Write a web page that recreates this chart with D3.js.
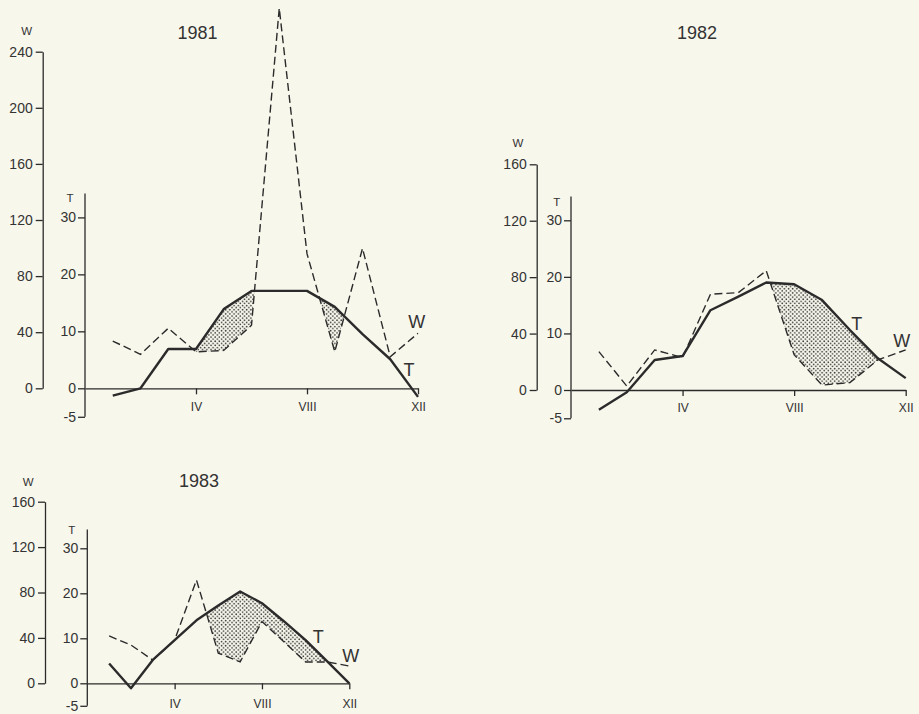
<!DOCTYPE html>
<html>
<head>
<meta charset="utf-8">
<script src="https://cdn.jsdelivr.net/npm/d3@7"></script>
<style>
  html, body { margin: 0; padding: 0; background: #f8f7ec; }
  svg { display: block; }
  text { font-family: "Liberation Sans", Arial, sans-serif; fill: #333; }
</style>
</head>
<body>
<svg id="chart" width="919" height="714"></svg>
<script>
// Monthly mean temperature (T, °C) and precipitation (W, mm), Walter–Lieth style
const monthTicks = [4, 8, 12];
const monthTickLabels = ["IV", "VIII", "XII"];
const tempTicks = [-5, 0, 10, 20, 30];
const rainTicks1981 = [0, 40, 80, 120, 160, 200, 240];
const rainTicks = [0, 40, 80, 120, 160];

const temp1981 = [-1.3, 0, 6.9, 6.9, 13.9, 17.1, 17.1, 17.1, 14.3, 9.5, 5.1, -1.5];
const rain1981 = [33.7, 24.2, 42.8, 26, 27, 45, 271, 96, 26, 99.8, 22.5, 39.2];

const temp1982 = [-3.5, -0.4, 5.3, 6.0, 14.1, 16.5, 19.0, 18.7, 15.9, 10.6, 5.6, 2.1];
const rain1982 = [27.2, 2.8, 28.4, 23, 67.9, 69, 84.6, 25, 3.5, 5.2, 21.3, 28.4];

const temp1983 = [4.4, -1.1, 5.2, 9.6, 14, 17.3, 20.4, 17.8, 13.8, 9.6, 4.8, 0];
const rain1983 = [41.7, 33.7, 20.5, 38, 91, 26.6, 18.8, 54.4, 36.7, 18.8, 18.8, 15.2];

const panels = [
  { year: "1981", temp: temp1981, rain: rain1981, rainTicks: rainTicks1981,
    tx: 85, wx: 42.7, xii: 418, base: 388.3, t30: 217.4, wTopPx: 51.7,
    title: [197.5, 38.5], tLab: [409, 376], wLab: [416.7, 328.3],
    numY: 411, axW: [26.7, 35], axT: [70, 202] },
  { year: "1982", temp: temp1982, rain: rain1982, rainTicks: rainTicks,
    tx: 571, wx: 536.7, xii: 905.7, base: 390, t30: 220.3, wTopPx: 164.3,
    title: [697, 38.5], tLab: [856.7, 330], wLab: [901.7, 346.7],
    numY: 411.5, axW: [518, 147], axT: [556.7, 205.5] },
  { year: "1983", temp: temp1983, rain: rain1983, rainTicks: rainTicks,
    tx: 87.3, wx: 45, xii: 349.3, base: 683.3, t30: 548.3, wTopPx: 501.7,
    title: [199, 486.5], tLab: [318.3, 643.3], wLab: [350.8, 661.7],
    numY: 708, axW: [28.3, 486], axT: [71.7, 534] }
];

const ink = "#2b2b2b";
const svg = d3.select("#chart");

// stipple used for dry periods (W below T)
const defs = svg.append("defs");
const pat = defs.append("pattern")
  .attr("id", "stipple")
  .attr("patternUnits", "userSpaceOnUse")
  .attr("width", 4.2).attr("height", 4.2);
pat.append("circle").attr("cx", 1).attr("cy", 1).attr("r", 0.85).attr("fill", "#333");
pat.append("circle").attr("cx", 3.1).attr("cy", 3.1).attr("r", 0.85).attr("fill", "#333");

panels.forEach((p, k) => {
  const g = svg.append("g");
  const x = d3.scaleLinear().domain([0, 12]).range([p.tx, p.xii]);
  const tY = d3.scaleLinear().domain([0, 30]).range([p.base, p.t30]);
  const wMax = d3.max(p.rainTicks);
  const wY = d3.scaleLinear().domain([0, wMax]).range([p.base, p.wTopPx]);
  const idx = d3.range(12);
  const plain = d => String(d);

  // W axis
  const wAxis = g.append("g")
    .attr("transform", `translate(${p.wx},0)`)
    .call(d3.axisLeft(wY).tickValues(p.rainTicks).tickFormat(plain)
      .tickSize(7).tickSizeOuter(0).tickPadding(3));
  // T axis
  const tAxis = g.append("g")
    .attr("transform", `translate(${p.tx},0)`)
    .call(d3.axisLeft(tY).tickValues(tempTicks).tickFormat(plain)
      .tickSize(7).tickSizeOuter(0).tickPadding(2));
  tAxis.select(".domain").attr("d", `M0,${tY(-5)}V${tY(34.2)}`);
  [wAxis, tAxis].forEach(a => {
    a.select(".domain").attr("stroke", ink).attr("stroke-width", 1.3);
    a.selectAll(".tick line").attr("stroke", ink).attr("stroke-width", 1.3);
    a.selectAll(".tick text").attr("font-size", 14).attr("fill", "#333")
      .attr("font-family", "Liberation Sans, Arial, sans-serif");
  });

  // month baseline at 0 °C
  const mAxis = g.append("g")
    .attr("transform", `translate(0,${p.base})`)
    .call(d3.axisBottom(x).tickValues(monthTicks).tickSize(6).tickSizeOuter(0)
      .tickFormat((d, i) => monthTickLabels[i]));
  mAxis.select(".domain").attr("stroke", ink).attr("stroke-width", 1.3);
  mAxis.selectAll(".tick line").attr("stroke", ink).attr("stroke-width", 1.3);
  mAxis.selectAll(".tick text").attr("font-size", 12).attr("fill", "#333")
    .attr("y", null).attr("dy", null)
    .attr("transform", `translate(0,${p.numY - p.base})`)
    .attr("font-family", "Liberation Sans, Arial, sans-serif");

  // dry period shading: area between W and T, kept only below the T curve
  const clipId = "below-t-" + k;
  defs.append("clipPath").attr("id", clipId)
    .append("path")
    .attr("d", d3.area().x(i => x(i + 1)).y0(p.base + 80).y1(i => tY(p.temp[i]))(idx));
  g.append("path")
    .attr("d", d3.area().x(i => x(i + 1)).y0(i => tY(p.temp[i])).y1(i => wY(p.rain[i]))(idx))
    .attr("fill", "url(#stipple)")
    .attr("clip-path", `url(#${clipId})`);

  // precipitation (dashed)
  g.append("path")
    .attr("d", d3.line().x(i => x(i + 1)).y(i => wY(p.rain[i]))(idx))
    .attr("fill", "none").attr("stroke", ink)
    .attr("stroke-width", 1.4).attr("stroke-dasharray", "8,4");

  // temperature (solid)
  g.append("path")
    .attr("d", d3.line().x(i => x(i + 1)).y(i => tY(p.temp[i]))(idx))
    .attr("fill", "none").attr("stroke", ink)
    .attr("stroke-width", 2.4).attr("stroke-linejoin", "round");

  // titles and labels
  g.append("text").attr("x", p.title[0]).attr("y", p.title[1])
    .attr("text-anchor", "middle").attr("font-size", 18).text(p.year);
  g.append("text").attr("x", p.axW[0]).attr("y", p.axW[1])
    .attr("text-anchor", "middle").attr("font-size", 11.5).text("W");
  g.append("text").attr("x", p.axT[0]).attr("y", p.axT[1])
    .attr("text-anchor", "middle").attr("font-size", 11.5).text("T");
  g.append("text").attr("x", p.tLab[0]).attr("y", p.tLab[1])
    .attr("text-anchor", "middle").attr("font-size", 18).text("T");
  g.append("text").attr("x", p.wLab[0]).attr("y", p.wLab[1])
    .attr("text-anchor", "middle").attr("font-size", 18).text("W");
});
</script>
</body>
</html>
